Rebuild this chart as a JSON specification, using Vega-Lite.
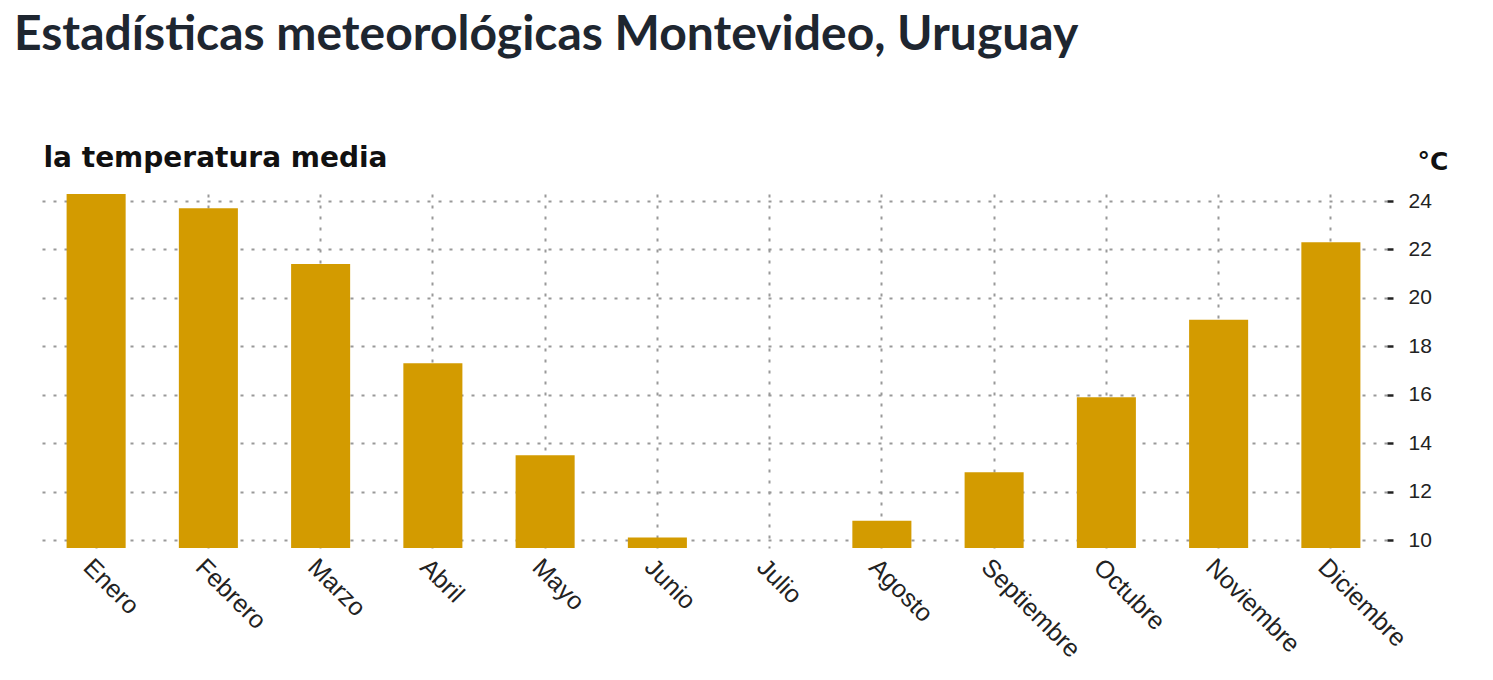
{
  "$schema": "https://vega.github.io/schema/vega-lite/v6.json",
  "autosize": {"type": "none"},
  "width": 1347,
  "height": 354,
  "padding": {"left": 40, "top": 194, "right": 106, "bottom": 132},
  "background": "#ffffff",
  "title": {
    "text": "Estadísticas meteorológicas Montevideo, Uruguay",
    "anchor": "start",
    "frame": "group",
    "font": "Lato",
    "fontSize": 48,
    "fontWeight": "bold",
    "color": "#1e2630",
    "baseline": "alphabetic",
    "dx": -26,
    "dy": -26,
    "offset": 20
  },
  "data": {
    "values": [
      {"mes": "Enero", "temp": 24.3},
      {"mes": "Febrero", "temp": 23.7},
      {"mes": "Marzo", "temp": 21.4},
      {"mes": "Abril", "temp": 17.3},
      {"mes": "Mayo", "temp": 13.5},
      {"mes": "Junio", "temp": 10.1},
      {"mes": "Julio", "temp": 9.6},
      {"mes": "Agosto", "temp": 10.8},
      {"mes": "Septiembre", "temp": 12.8},
      {"mes": "Octubre", "temp": 15.9},
      {"mes": "Noviembre", "temp": 19.1},
      {"mes": "Diciembre", "temp": 22.3}
    ]
  },
  "encoding": {
    "x": {
      "field": "mes",
      "type": "nominal",
      "sort": null,
      "scale": {"paddingInner": 0.474, "paddingOuter": 0.237},
      "axis": {
        "title": null,
        "labelAngle": 45,
        "labelAlign": "left",
        "labelBaseline": "top",
        "labelFont": "Liberation Sans",
        "labelFontSize": 25,
        "labelColor": "#222222",
        "labelPadding": 6,
        "bandPosition": 0.5,
        "ticks": false,
        "domain": false,
        "grid": true,
        "gridColor": "#999999",
        "gridWidth": 2,
        "gridDash": [3, 8]
      }
    }
  },
  "layer": [
    {
      "mark": {"type": "bar", "color": "#d39b00"},
      "encoding": {
        "y": {
          "field": "temp",
          "type": "quantitative",
          "scale": {"domain": [9.67, 24.29], "zero": false, "nice": false, "clamp": true},
          "axis": {
            "orient": "right",
            "values": [10, 12, 14, 16, 18, 20, 22, 24],
            "title": "°C",
            "titleAngle": 0,
            "titleAlign": "left",
            "titleBaseline": "alphabetic",
            "titleX": 30,
            "titleY": -25,
            "titleFont": "DejaVu Sans",
            "titleFontSize": 25,
            "titleFontWeight": "bold",
            "titleColor": "#111111",
            "labelFont": "Liberation Sans",
            "labelFontSize": 21,
            "labelColor": "#222222",
            "labelPadding": 15,
            "tickSize": 6,
            "tickWidth": 2.5,
            "tickColor": "#222222",
            "domain": false,
            "grid": true,
            "gridColor": "#999999",
            "gridWidth": 2,
            "gridDash": [3, 8]
          }
        }
      }
    },
    {
      "mark": {"type": "bar", "opacity": 0},
      "encoding": {
        "y": {
          "field": "temp",
          "type": "quantitative",
          "axis": {
            "orient": "left",
            "title": "la temperatura media",
            "titleAngle": 0,
            "titleAlign": "left",
            "titleBaseline": "alphabetic",
            "titleX": 3,
            "titleY": -28,
            "titleFont": "DejaVu Sans",
            "titleFontSize": 28,
            "titleFontWeight": "bold",
            "titleColor": "#111111",
            "labels": false,
            "ticks": false,
            "domain": false,
            "grid": false
          }
        }
      }
    }
  ],
  "resolve": {"axis": {"y": "independent"}},
  "config": {"view": {"stroke": null}}
}
